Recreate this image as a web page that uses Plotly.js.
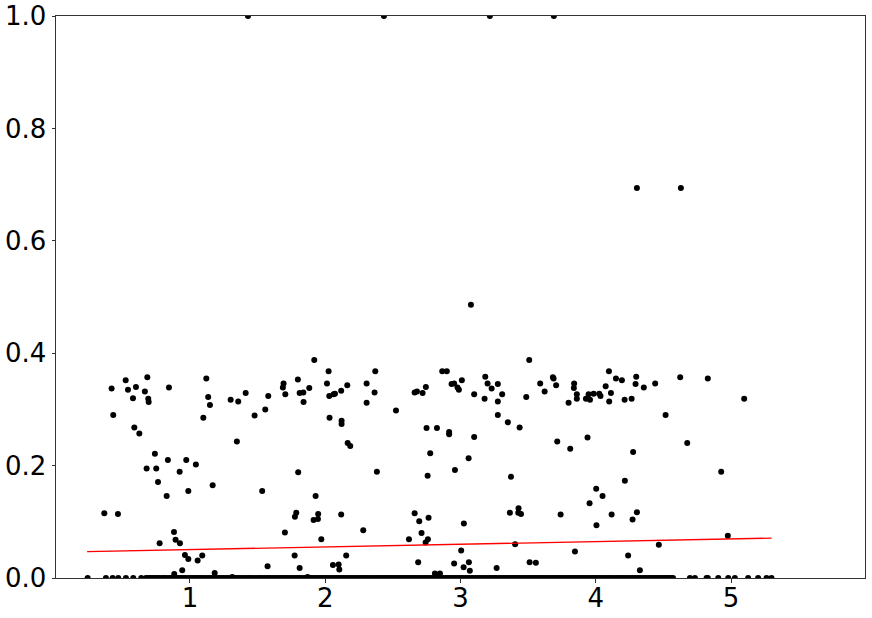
<!DOCTYPE html>
<html>
<head>
<meta charset="utf-8">
<script src="https://cdn.plot.ly/plotly-3.0.1.min.js"></script>
<style>
  html, body { margin: 0; padding: 0; background: #fff; }
  #chart { width: 872px; height: 618px; }
</style>
</head>
<body>
<div id="chart"></div>
<script>
// Scatter of values against x, with a fitted trend line on top.

// non-zero points
const valueX = [
  0.421, 0.525, 0.542, 0.601, 0.685, 0.667, 0.579, 0.692, 0.695, 0.845,
  0.433, 0.589, 0.626, 0.741, 0.837, 0.973, 0.680, 0.751, 0.924, 0.764,
  0.988, 0.828, 1.044, 0.367, 0.468, 0.882, 0.776, 0.894, 0.926, 0.963,
  0.988, 0.943, 0.884,
  1.121, 1.135, 1.148, 1.099, 1.301, 1.357, 1.412, 1.347, 1.168, 1.057,
  1.091, 1.183, 1.313, 1.478, 1.557, 1.579, 1.534, 1.574, 1.687, 1.692,
  1.705, 1.798, 1.811, 1.838, 1.840, 1.882, 1.919, 2.013, 2.025, 2.030,
  2.032, 1.800, 1.929, 1.948, 1.946, 1.914, 1.786, 1.776, 1.702, 1.971,
  1.774, 1.811, 1.870,
  2.062, 2.072, 2.118, 2.163, 2.121, 2.121, 2.166, 2.185, 2.306, 2.370,
  2.365, 2.306, 2.523, 2.382, 2.118, 2.281, 2.155, 2.057, 2.099, 2.104,
  2.661, 2.678, 2.720, 2.744, 2.865, 2.899, 2.934, 2.953, 2.978, 2.988,
  3.010, 2.749, 2.826, 2.916, 2.916, 2.776, 2.757, 2.959, 2.661, 2.695,
  2.764, 2.712, 2.619, 2.759, 2.742, 3.025, 3.005, 2.953, 2.687, 3.023,
  2.811, 2.848,
  3.101, 3.101, 3.060, 3.062, 3.069, 3.183, 3.200, 3.230, 3.178, 3.276,
  3.308, 3.276, 3.276, 3.350, 3.437, 3.508, 3.486, 3.373, 3.365, 3.429,
  3.427, 3.447, 3.404, 3.267, 3.511, 3.557, 3.589, 3.622, 3.683, 3.688,
  3.707, 3.799, 3.840, 3.838, 3.860, 3.860, 3.927, 3.947, 3.957, 3.984,
  4.025, 3.715, 3.811, 3.939, 3.740, 3.846, 3.954, 4.003, 4.005,
  4.035, 4.097, 4.073, 4.112, 4.099, 4.149, 4.193, 4.213, 4.265, 4.299,
  4.294, 4.355, 4.439, 4.516, 4.624, 4.828, 4.676, 4.276, 4.927, 4.050,
  4.215, 4.117, 4.272, 4.304, 4.466, 4.239, 4.326, 4.976, 5.097,
  1.429, 2.434, 3.217, 3.690, 4.304, 4.629, 3.077
];
const valueY = [
  0.337, 0.352, 0.335, 0.340, 0.357, 0.332, 0.320, 0.319, 0.313, 0.339,
  0.290, 0.268, 0.257, 0.221, 0.210, 0.210, 0.195, 0.195, 0.189, 0.171,
  0.155, 0.146, 0.202, 0.115, 0.114, 0.082, 0.062, 0.068, 0.062, 0.041,
  0.034, 0.014, 0.007,
  0.355, 0.322, 0.308, 0.285, 0.317, 0.314, 0.329, 0.243, 0.165, 0.031,
  0.040, 0.009, 0.002, 0.289, 0.300, 0.324, 0.155, 0.021, 0.339, 0.346,
  0.327, 0.353, 0.329, 0.330, 0.313, 0.338, 0.388, 0.346, 0.368, 0.324,
  0.285, 0.188, 0.146, 0.114, 0.105, 0.103, 0.116, 0.109, 0.081, 0.069,
  0.040, 0.018, 0.002,
  0.327, 0.328, 0.333, 0.343, 0.280, 0.274, 0.240, 0.235, 0.346, 0.368,
  0.330, 0.312, 0.298, 0.189, 0.113, 0.085, 0.040, 0.023, 0.024, 0.015,
  0.330, 0.332, 0.329, 0.340, 0.368, 0.368, 0.345, 0.346, 0.339, 0.335,
  0.352, 0.267, 0.267, 0.260, 0.256, 0.222, 0.182, 0.192, 0.115, 0.101,
  0.107, 0.080, 0.069, 0.069, 0.063, 0.097, 0.049, 0.026, 0.028, 0.019,
  0.008, 0.008,
  0.327, 0.251, 0.213, 0.028, 0.013, 0.358, 0.346, 0.337, 0.319, 0.345,
  0.327, 0.314, 0.290, 0.277, 0.268, 0.388, 0.322, 0.180, 0.116, 0.124,
  0.116, 0.114, 0.060, 0.018, 0.028, 0.027, 0.346, 0.332, 0.357, 0.355,
  0.343, 0.312, 0.346, 0.338, 0.327, 0.319, 0.319, 0.327, 0.317, 0.328,
  0.328, 0.243, 0.230, 0.250, 0.113, 0.047, 0.133, 0.159, 0.094,
  0.324, 0.368, 0.341, 0.329, 0.314, 0.355, 0.352, 0.317, 0.319, 0.358,
  0.345, 0.339, 0.346, 0.290, 0.357, 0.355, 0.240, 0.224, 0.189, 0.146,
  0.173, 0.113, 0.104, 0.117, 0.059, 0.040, 0.014, 0.075, 0.319,
  1.0, 1.0, 1.0, 1.0, 0.694, 0.694, 0.486
];

// points sitting exactly on zero
const zeroX = [
  0.244, 0.379, 0.429, 0.470, 0.527, 0.581, 0.640, 0.675, 0.702, 0.731,
  0.758, 0.792, 0.818, 0.853, 0.879, 0.912, 0.941, 0.968, 1.003, 1.031,
  1.062, 1.088, 1.121, 1.153, 1.187, 1.216, 1.249, 1.282, 1.318, 1.349,
  1.377, 1.412, 1.441, 1.468, 1.503, 1.532, 1.566, 1.598, 1.627, 1.661,
  1.693, 1.722, 1.751, 1.784, 1.812, 1.846, 1.874, 1.903, 1.932, 1.961,
  1.993, 2.021, 2.053, 2.084, 2.112, 2.141, 2.173, 2.206, 2.239, 2.268,
  2.297, 2.331, 2.362, 2.391, 2.423, 2.452, 2.481, 2.512, 2.543, 2.571,
  2.602, 2.634, 2.663, 2.692, 2.724, 2.753, 2.781, 2.814, 2.843, 2.872,
  2.903, 2.931, 2.962, 2.993, 3.021, 3.052, 3.083, 3.112, 3.141, 3.173,
  3.204, 3.232, 3.261, 3.293, 3.322, 3.353, 3.384, 3.412, 3.441, 3.472,
  3.503, 3.531, 3.562, 3.591, 3.622, 3.654, 3.683, 3.712, 3.741, 3.772,
  3.803, 3.831, 3.862, 3.893, 3.921, 3.952, 3.983, 4.012, 4.041, 4.073,
  4.102, 4.131, 4.166, 4.193, 4.222, 4.253, 4.284, 4.312, 4.341, 4.372,
  4.403, 4.431, 4.462, 4.493, 4.522, 4.548, 4.571,
  4.696, 4.733, 4.819, 4.828, 4.905, 4.979, 5.028, 5.126, 5.200, 5.262, 5.299,
  // the rest of the dense run along the axis
  0.689, 0.716, 0.745, 0.774, 0.806, 0.836, 0.866, 0.896, 0.927, 0.955,
  0.986, 1.017, 1.047, 1.075, 1.104, 1.137, 1.170, 1.201, 1.233, 1.266,
  1.300, 1.334, 1.363, 1.395, 1.427, 1.455, 1.486, 1.518, 1.549, 1.582,
  1.612, 1.644, 1.677, 1.708, 1.737, 1.768, 1.798, 1.829, 1.860, 1.889,
  1.918, 1.947, 1.977, 2.007, 2.037, 2.068, 2.098, 2.127, 2.157, 2.190,
  2.222, 2.254, 2.283, 2.314, 2.346, 2.377, 2.407, 2.438, 2.467, 2.497,
  2.528, 2.557, 2.587, 2.618, 2.648, 2.678, 2.708, 2.739, 2.767, 2.798,
  2.829, 2.858, 2.888, 2.917, 2.947, 2.978, 3.007, 3.037, 3.068, 3.097,
  3.127, 3.157, 3.189, 3.218, 3.247, 3.277, 3.308, 3.338, 3.369, 3.398,
  3.427, 3.457, 3.488, 3.517, 3.547, 3.577, 3.607, 3.638, 3.669, 3.698,
  3.727, 3.757, 3.788, 3.817, 3.847, 3.878, 3.907, 3.937, 3.968, 3.998,
  4.027, 4.057, 4.088, 4.117, 4.149, 4.180, 4.208, 4.238, 4.269, 4.298,
  4.327, 4.357, 4.388, 4.417, 4.447, 4.478, 4.508, 4.535, 4.560
];

// fitted trend line end points
const trendX = [0.24, 5.30];
const trendY = [0.047, 0.071];

const xTicks = [1, 2, 3, 4, 5];
const yTicks = [0.0, 0.2, 0.4, 0.6, 0.8, 1.0];

const FONT = "DejaVu Sans, sans-serif";

const traces = [
  {
    x: valueX.concat(zeroX),
    y: valueY.concat(zeroX.map(() => 0)),
    type: "scatter",
    mode: "markers",
    marker: { color: "#000", size: 6, line: { width: 0 } },
    hoverinfo: "x+y",
  },
  {
    x: trendX,
    y: trendY,
    type: "scatter",
    mode: "lines",
    line: { color: "#ff0000", width: 1.3 },
    hoverinfo: "skip",
  },
];

const axisBase = {
  showgrid: false,
  zeroline: false,
  showline: true,
  mirror: true,
  linecolor: "#333",
  linewidth: 1,
  ticks: "outside",
  ticklen: 3.5,
  tickwidth: 1,
  tickcolor: "#333",
  tickfont: { family: FONT, size: 26, color: "#000" },
};

const layout = {
  width: 872,
  height: 618,
  margin: { l: 56, r: 7, t: 16, b: 40 },
  paper_bgcolor: "#fff",
  plot_bgcolor: "#fff",
  showlegend: false,
  xaxis: {
    ...axisBase,
    range: [0.01, 5.99],
    tickvals: xTicks,
    ticktext: xTicks.map(String),
    ticklabelstandoff: -7,
  },
  yaxis: {
    ...axisBase,
    range: [0, 1],
    tickvals: yTicks,
    ticktext: yTicks.map((v) => v.toFixed(1)),
  },
};

Plotly.newPlot("chart", traces, layout, { displayModeBar: false, staticPlot: true });
</script>
</body>
</html>
